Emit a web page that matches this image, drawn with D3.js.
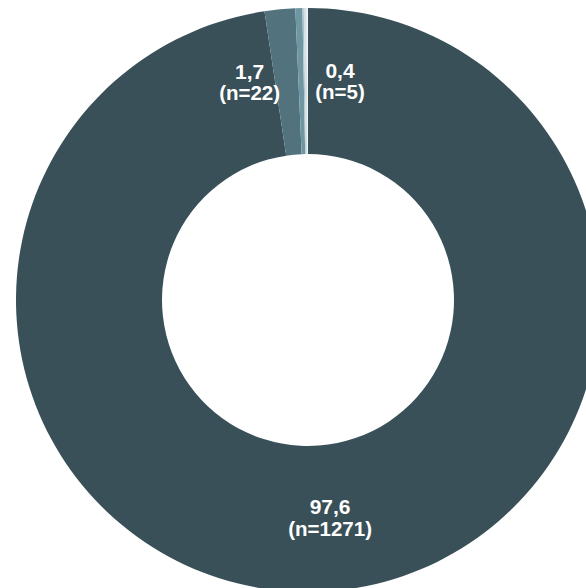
<!DOCTYPE html>
<html><head><meta charset="utf-8">
<script src="https://cdn.jsdelivr.net/npm/d3@7"></script>
<style>html,body{margin:0;padding:0;background:#fff;overflow:hidden}svg{display:block}</style>
</head><body>
<svg id="chart" width="586" height="588"></svg>
<script>
const categories = ["A", "B", "C", "D", "E", "F"];
const counts = [1271, 22, 5, 1, 2, 1];
const percentLabels = ["97,6", "1,7", "0,4", "", "", ""];
const nLabels = ["(n=1271)", "(n=22)", "(n=5)", "", "", ""];
const colors = ["#3a5058", "#52737e", "#6f96a2", "#a7c2ca", "#d3e0e4", "#eef3f5"];

const W = 586, H = 588;
const cx = 308, cy = 300, outerR = 292, innerR = 146;

const svg = d3.select("#chart");
const g = svg.append("g").attr("transform", `translate(${cx},${cy})`);

const data = categories.map((c, i) => ({cat: c, value: counts[i], pct: percentLabels[i], n: nLabels[i]}));

const color = d3.scaleOrdinal().domain(categories).range(colors);
const pie = d3.pie().value(d => d.value).sort(null);
const arc = d3.arc().innerRadius(innerR).outerRadius(outerR);
const labelArc = d3.arc().innerRadius(222).outerRadius(222);

const arcs = pie(data);
g.selectAll("path.slice").data(arcs).join("path")
  .attr("class", "slice")
  .attr("d", arc)
  .attr("fill", d => color(d.data.cat));

// small slices get their label pushed sideways (alternating left/right)
let smallIdx = 0;
const placed = arcs.filter(d => d.data.pct).map(d => {
  const [x, y] = labelArc.centroid(d);
  const small = (d.endAngle - d.startAngle) < 0.3;
  let dx = 5.5, dy1 = -7, dy2 = 15;
  if (small) {
    dx = (smallIdx % 2 === 0) ? -37 : 39;
    dy1 = 0; dy2 = 21;
    smallIdx++;
  }
  return {d, x: x + dx, y, dy1, dy2};
});

const lbl = g.selectAll("g.lbl").data(placed).join("g")
  .attr("class", "lbl")
  .attr("transform", p => `translate(${p.x},${p.y})`);
lbl.append("text")
  .attr("text-anchor", "middle")
  .attr("y", p => p.dy1)
  .attr("font-family", "'Liberation Sans', Arial, sans-serif")
  .attr("font-weight", "bold")
  .attr("font-size", 21)
  .attr("fill", "#fff")
  .text(p => p.d.data.pct);
lbl.append("text")
  .attr("text-anchor", "middle")
  .attr("y", p => p.dy2)
  .attr("font-family", "'Liberation Sans', Arial, sans-serif")
  .attr("font-weight", "bold")
  .attr("font-size", 20.5)
  .attr("fill", "#fff")
  .text(p => p.d.data.n);
</script>
</body></html>
